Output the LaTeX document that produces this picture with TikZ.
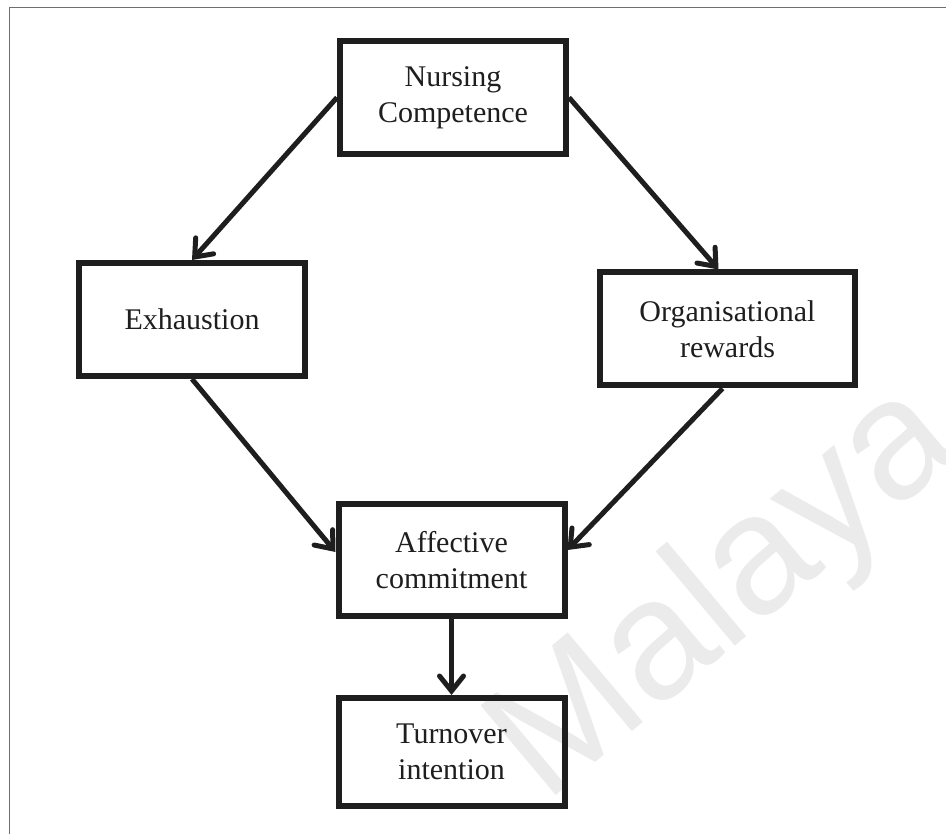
\documentclass[tikz,border=0pt]{standalone}
\usepackage{fontspec}
\setmainfont{Liberation Serif}
\newfontfamily\markfont{Liberation Sans}
\usetikzlibrary{arrows.meta,calc}

\definecolor{inkgray}{HTML}{1E1E1E}
\definecolor{framegray}{HTML}{6E6E6E}
\definecolor{markgray}{HTML}{EBEBEB}

\tikzset{
  conceptbox/.style={draw=inkgray, line width=6pt, fill=none,
    minimum width=226pt, minimum height=113pt, align=center,
    inner sep=0pt, font=\fontsize{30}{36}\selectfont, text=inkgray},
  link/.style={draw=inkgray, line width=5pt,
    -{Straight Barb[length=15pt,width=24pt,line cap=round]}},
}

\begin{document}
\begin{tikzpicture}[x=1pt,y=-1pt]
  % canvas
  \useasboundingbox (0,0) rectangle (946,834);
  \fill[white] (0,0) rectangle (946,834);

  % faint watermark behind the diagram
  \node[text=markgray, font=\markfont\fontsize{170}{170}\selectfont,
        rotate=40, anchor=base west, inner sep=0pt] (mark) at (545,805) {Malaya};

  % page frame
  \draw[framegray, line width=1.5pt] (9.5,834) -- (9.5,7.5) -- (946,7.5);

  % concepts
  \node[conceptbox] (nc)  at (453,97.5)  {Nursing\\Competence};
  \node[conceptbox] (ex)  at (192,319.5) {Exhaustion};
  \node[conceptbox, minimum width=255pt] (org) at (727.5,329) {Organisational\\rewards};
  \node[conceptbox, minimum height=111.5pt] (ac) at (451.5,560) {Affective\\commitment};
  \node[conceptbox, minimum height=108pt] (ti) at (451.5,752) {Turnover\\intention};

  % paths
  \draw[link] (nc.west) -- (ex.north);
  \draw[link] (nc.east) -- ($(org.north)+(-9,0)$);
  \draw[link] (ex.south) -- ($(ac.west)+(0,-8)$);
  \draw[link] ($(org.south)+(-5,0)$) -- ($(ac.east)+(0,-10)$);
  \draw[link] (ac.south) -- (ti.north);
\end{tikzpicture}
\end{document}
